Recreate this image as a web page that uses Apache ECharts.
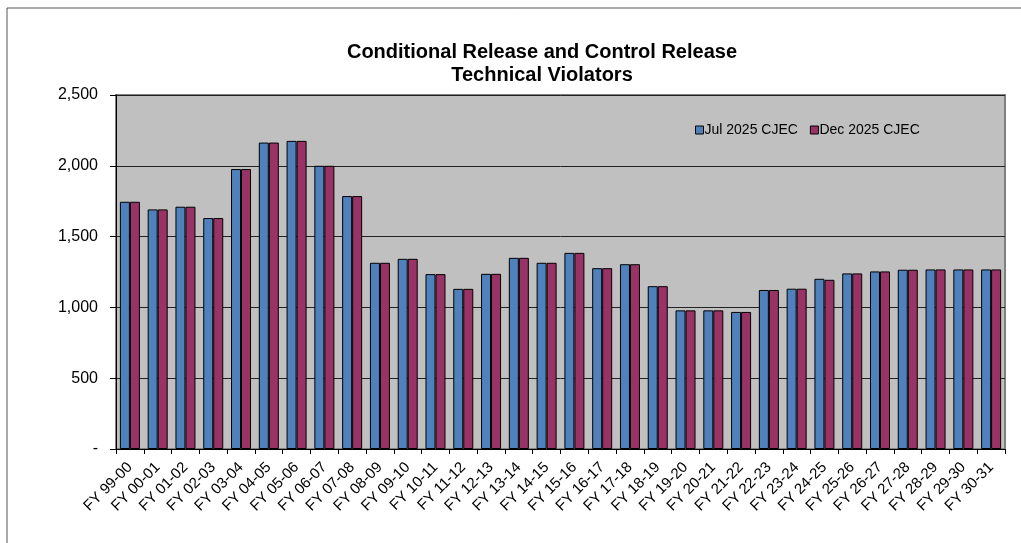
<!DOCTYPE html>
<html>
<head>
<meta charset="utf-8">
<script src="https://cdn.jsdelivr.net/npm/echarts@6/dist/echarts.min.js"></script>
<style>
html,body{margin:0;padding:0;background:#fff;}
#c{width:1021px;height:543px;}
</style>
</head>
<body>
<div id="c"></div>
<script>
const categories = ['FY 99-00','FY 00-01','FY 01-02','FY 02-03','FY 03-04','FY 04-05','FY 05-06','FY 06-07','FY 07-08','FY 08-09','FY 09-10','FY 10-11','FY 11-12','FY 12-13','FY 13-14','FY 14-15','FY 15-16','FY 16-17','FY 17-18','FY 18-19','FY 19-20','FY 20-21','FY 21-22','FY 22-23','FY 23-24','FY 24-25','FY 25-26','FY 26-27','FY 27-28','FY 28-29','FY 29-30','FY 30-31'];
const jul2025 = [1746,1692,1711,1631,1977,2164,2176,2000,1786,1315,1343,1235,1131,1237,1350,1315,1385,1277,1305,1150,979,979,968,1123,1132,1202,1240,1254,1266,1268,1268,1268];
const dec2025 = [1746,1692,1711,1631,1977,2164,2176,2000,1786,1315,1343,1235,1131,1237,1350,1315,1385,1277,1305,1150,979,979,968,1123,1132,1195,1240,1254,1266,1268,1268,1268];
const seriesNames = ['Jul 2025 CJEC','Dec 2025 CJEC'];
const yTicks = {min:0, max:2500, interval:500};

const chart = echarts.init(document.getElementById('c'));
const font = 'Liberation Sans, Arial, sans-serif';
chart.setOption({
  backgroundColor:'#fff',
  animation:false,
  textStyle:{fontFamily:font},
  graphic:[{type:'rect',shape:{x:7,y:8,width:1100,height:600},style:{fill:'none',stroke:'#555',lineWidth:1},z:-1}],
  title:{
    text:'Conditional Release and Control Release\nTechnical Violators',
    left:537, top:36, textAlign:'center',
    textStyle:{fontFamily:font,fontSize:20,fontWeight:'bold',color:'#000',lineHeight:23}
  },
  legend:{
    data:seriesNames, left:690, top:118, icon:'rect', itemWidth:8, itemHeight:8, itemGap:12,
    itemStyle:{borderColor:'#000',borderWidth:1},
    textStyle:{fontFamily:font,fontSize:14,color:'#000',padding:[0,0,0,-4]}
  },
  grid:{left:116,right:16,top:95,bottom:94,show:true,backgroundColor:'#C0C0C0',borderColor:'#808080',borderWidth:2},
  xAxis:{
    type:'category', data:categories, boundaryGap:true,
    axisLine:{lineStyle:{color:'#000',width:1}},
    axisTick:{show:true,length:5,alignWithLabel:false,lineStyle:{color:'#000'}},
    axisLabel:{rotate:45,interval:0,margin:16,fontSize:15,color:'#000',fontFamily:font}
  },
  yAxis:{
    type:'value', min:yTicks.min, max:yTicks.max, interval:yTicks.interval,
    axisLine:{show:true,lineStyle:{color:'#000',width:1}},
    axisTick:{show:true,length:6,lineStyle:{color:'#000'}},
    splitLine:{lineStyle:{color:'#222',width:1}},
    axisLabel:{margin:18,fontSize:16,color:'#000',fontFamily:font,
      formatter:v=> v===0 ? '-' : v.toLocaleString('en-US')}
  },
  series:[
    {name:seriesNames[0],type:'bar',data:jul2025,barWidth:10,barGap:'0%',
     itemStyle:{color:'#4F81BD',borderColor:'#000',borderWidth:1}},
    {name:seriesNames[1],type:'bar',data:dec2025,barWidth:10,barGap:'0%',
     itemStyle:{color:'#993366',borderColor:'#000',borderWidth:1}}
  ]
});
</script>
</body>
</html>
